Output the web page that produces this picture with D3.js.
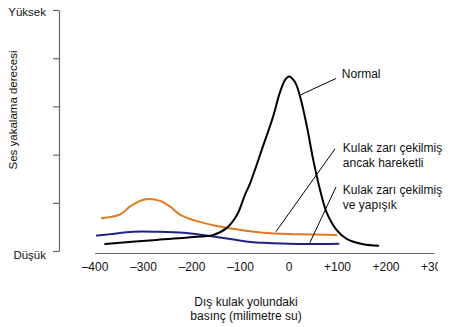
<!DOCTYPE html>
<html><head><meta charset="utf-8">
<script src="https://cdn.jsdelivr.net/npm/d3@7"></script>
<style>body{margin:0;background:#fff}svg{display:block;font-family:"Liberation Sans",Arial,Helvetica,sans-serif}</style>
</head><body>
<svg id="c" width="450" height="327"></svg>
<script>
// x: pressure (mm water), y: level 0 (Düşük) .. 5 (Yüksek)
const xTicks = [-400, -300, -200, -150, -100, 0, 100, 200, 300];
const xLabeled = [-400, -300, -200, -100, 0, 100, 200, 300];
const yTicks = [0, 1, 2, 3, 4, 5];

const normalX = [-378,-272,-182,-156,-127,-106,-90,-79,-53,-32,-18,-7,1,13,24,38,51,65,79,99,120,154,185];
const normalY = [0.145,0.23,0.30,0.33,0.48,0.75,1.16,1.41,2.16,2.78,3.28,3.55,3.62,3.51,3.20,2.58,1.89,1.27,0.79,0.44,0.25,0.14,0.11];

const mobileX = [-385,-347,-327,-306,-289,-265,-244,-223,-189,-148,-107,-52,17,99];
const mobileY = [0.68,0.76,0.92,1.04,1.08,1.04,0.92,0.75,0.62,0.52,0.45,0.38,0.35,0.33];

const fixedX = [-395,-368,-320,-272,-217,-169,-127,-83,-52,17,103];
const fixedY = [0.32,0.35,0.40,0.40,0.38,0.32,0.26,0.19,0.17,0.145,0.15];

const labelNames = [["Normal"], ["Kulak zarı çekilmiş","ancak hareketli"], ["Kulak zarı çekilmiş","ve yapışık"]];
const labelX = [110, 112, 112];
const labelY = [3.59, 2.05, 1.18];
const leaderFrom = [[25,3.24],[-26,0.40],[44,0.17]];
const leaderTo = [[98,3.58],[96,2.12],[98,1.33]];

const svg = d3.select("#c");
const x = d3.scaleLinear().domain([-400,300]).range([94.5,434]);
const y = d3.scaleLinear().domain([0,5]).range([251,10]);

// clip for cut-off right label
svg.append("clipPath").attr("id","cl").append("rect").attr("x",0).attr("y",0).attr("width",438).attr("height",327);

// y axis
const ya = svg.append("g").attr("transform","translate(59,0)")
  .call(d3.axisLeft(y).tickValues(yTicks).tickSize(6).tickSizeOuter(0).tickFormat(""));
ya.selectAll("path,line").attr("stroke","#666").attr("stroke-width",1.2);

// x axis
const xa = svg.append("g").attr("transform","translate(0,253)").attr("clip-path","url(#cl)")
  .call(d3.axisBottom(x).tickValues(xTicks).tickSizeInner(-5).tickSizeOuter(0).tickPadding(9.5)
    .tickFormat(v => xLabeled.includes(v) ? (v<0 ? "–"+Math.abs(v) : v>0 ? "+"+v : "0") : ""));
xa.selectAll("path,line").attr("stroke","#666").attr("stroke-width",1.2);
xa.selectAll("text").attr("font-size",12).attr("fill","#111").attr("font-family","Liberation Sans, Arial, sans-serif");

// y end labels
svg.append("text").attr("x",46).attr("y",y(5)+6).attr("text-anchor","end").attr("font-size",11.5).attr("fill","#111").text("Yüksek");
svg.append("text").attr("x",46).attr("y",y(0)+8).attr("text-anchor","end").attr("font-size",11.5).attr("fill","#111").text("Düşük");

// y title
svg.append("text").attr("transform","translate(17,110) rotate(-90)").attr("text-anchor","middle")
  .attr("font-size",11.5).attr("fill","#111").text("Ses yakalama derecesi");

// x title
const xt = svg.append("text").attr("x",246).attr("y",306).attr("text-anchor","middle").attr("font-size",12).attr("fill","#111");
xt.append("tspan").attr("x",246).text("Dış kulak yolundaki");
xt.append("tspan").attr("x",246).attr("dy",13.5).text("basınç (milimetre su)");

// curves
const line = d3.line().x(d=>x(d[0])).y(d=>y(d[1])).curve(d3.curveCatmullRom.alpha(0.5));
function draw(xs, ys, color){
  svg.append("path").datum(xs.map((v,i)=>[v,ys[i]])).attr("d",line)
    .attr("fill","none").attr("stroke",color).attr("stroke-width",2).attr("stroke-linecap","round");
}
draw(mobileX, mobileY, "#E07A1C");
draw(fixedX, fixedY, "#1C2585");
draw(normalX, normalY, "#000");

// leaders and labels
labelNames.forEach((lines,i)=>{
  svg.append("line").attr("x1",x(leaderFrom[i][0])).attr("y1",y(leaderFrom[i][1]))
    .attr("x2",x(leaderTo[i][0])).attr("y2",y(leaderTo[i][1])).attr("stroke","#000").attr("stroke-width",1);
  const t = svg.append("text").attr("x",x(labelX[i])).attr("y",y(labelY[i])).attr("font-size",12).attr("fill","#111");
  lines.forEach((s,j)=>t.append("tspan").attr("x",x(labelX[i])).attr("dy",j?15:0).text(s));
});
</script>
</body></html>
